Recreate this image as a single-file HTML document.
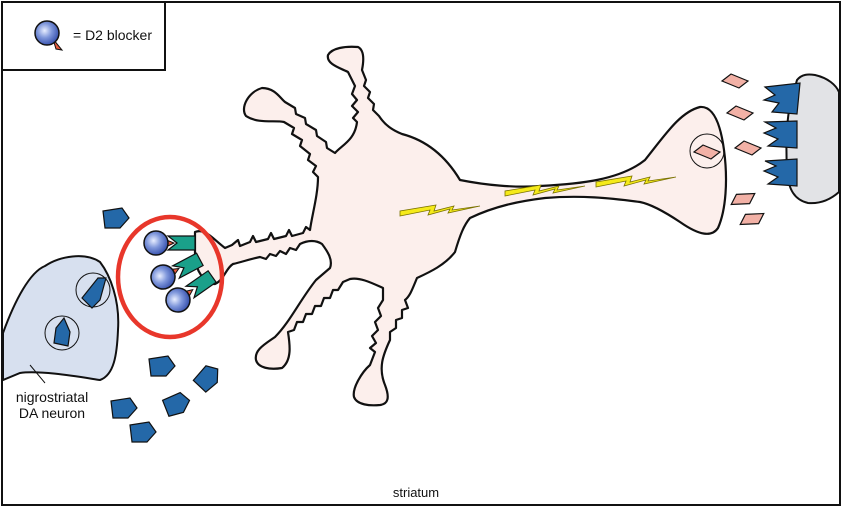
<!DOCTYPE html>
<html><head><style>
html,body{margin:0;padding:0;background:#fff}
svg{display:block}
text{font-family:"Liberation Sans",sans-serif;fill:#111}
</style></head><body>
<svg width="842" height="507" viewBox="0 0 842 507" xmlns="http://www.w3.org/2000/svg">
<defs>
<radialGradient id="ball" cx="0.4" cy="0.4" r="0.6">
<stop offset="0" stop-color="#e8eeff"/><stop offset="0.5" stop-color="#7f97db"/><stop offset="1" stop-color="#3b55b0"/>
</radialGradient>
<g id="blk"><path d="M6,6 L15,17 L9,16 Z" fill="#e85a3c" stroke="#111" stroke-width="1"/><circle cx="0" cy="0" r="12" fill="url(#ball)" stroke="#111" stroke-width="1.5"/></g>
<g id="blkr"><path d="M8,-4 L18,0 L8,5 Z" fill="#e85a3c" stroke="#111" stroke-width="1"/><circle cx="0" cy="0" r="12" fill="url(#ball)" stroke="#111" stroke-width="1.5"/></g>
<g id="rec"><path d="M0,-7 L27,-7 L27,7 L0,7 L9,0 Z" fill="#1aa08a" stroke="#111" stroke-width="1.2"/></g>
<path id="pent" d="M-12,-7 L7,-10 L14,0 L5,10 L-10,10 Z" fill="#2468a8" stroke="#111" stroke-width="1.2"/>
<path id="dia" d="M-13,0 L-4,-7 L13,0 L4,7 Z" fill="#f2b1a6" stroke="#111" stroke-width="1.2"/>
<path id="bolt" d="M0,8 L30,2 L28,7 L50,1 L48,5 L80,-2 L52,2 L54,-2 L34,3 L36,-3 L0,3 Z" fill="#f5ea1a" stroke="#7a7200" stroke-width="0.8"/>
</defs>
<rect x="2" y="2" width="838" height="503" fill="#fff" stroke="#111" stroke-width="2"/>
<rect x="2" y="2" width="163" height="68" fill="#fff" stroke="#111" stroke-width="2"/>
<use href="#blk" x="47" y="33"/>
<text x="73" y="40" font-size="14">= D2 blocker</text>

<!-- presynaptic DA neuron -->
<path d="M3,333 C15,300 30,272 45,266 C60,256 85,252 100,262 C110,275 120,300 118,330 C117,355 114,375 100,380 C80,377 40,370 20,373 L3,380 Z" fill="#d7e0ef" stroke="#111" stroke-width="2"/>
<line x1="30" y1="365" x2="45" y2="383" stroke="#111" stroke-width="1"/>
<circle cx="93" cy="290" r="17" fill="none" stroke="#111" stroke-width="1"/>
<circle cx="62" cy="333" r="17" fill="none" stroke="#111" stroke-width="1"/>
<path d="M82,298 L98,278 L106,278 L100,300 L92,308 Z" fill="#2468a8" stroke="#111" stroke-width="1.2"/>
<path d="M56,328 L64,318 L70,332 L68,346 L54,343 Z" fill="#2468a8" stroke="#111" stroke-width="1.2"/>
<text x="52" y="402" font-size="14" text-anchor="middle">nigrostriatal</text>
<text x="52" y="418" font-size="14" text-anchor="middle">DA neuron</text>

<!-- striatal neuron -->
<path d="M195,232 C205,228 212,238 225,248 L232,245 L238,240 L240,246 L250,242 L253,236 L256,242 L268,239 L271,233 L274,239 L286,236 L289,230 L292,236 L303,233 L306,227 L310,230 C312,215 318,195 318,177 L313,172 L316,166 L308,160 L310,154 L300,146 L302,140 L292,134 L294,128 L284,122 C275,120 258,124 246,116 C240,108 248,92 262,88 C275,88 280,98 285,102 L295,108 L296,114 L305,118 L306,124 L316,130 L317,136 L326,142 L327,148 L335,153 C342,145 355,140 357,122 L353,118 L358,112 L352,106 L357,100 L352,94 L355,86 L348,72 C340,68 326,64 328,55 C332,48 345,46 358,47 C364,50 364,60 362,70 L366,80 L364,86 L370,92 L368,98 L374,104 L373,110 L379,116 C385,125 392,130 402,134 C425,140 445,155 460,180 C485,185 515,188 540,186 C580,184 620,180 645,160 C665,135 680,112 700,107 C712,106 720,120 724,150 C728,180 726,210 718,228 C712,237 700,236 680,222 C665,212 650,204 640,202 C610,198 580,195 545,198 C520,201 495,206 470,218 C464,225 460,235 455,252 C445,265 430,272 417,278 C412,290 410,296 405,300 L408,308 L402,310 L402,318 L396,320 L396,328 L390,332 L390,340 C383,355 378,368 385,385 C390,398 388,404 380,405 C370,406 357,405 354,397 C352,388 362,372 370,365 L375,352 L370,348 L376,343 L372,336 L378,330 L375,322 L381,316 L378,308 L383,300 L383,288 C372,283 360,277 350,279 L343,282 L338,290 L333,290 L330,298 L324,298 L321,306 L315,306 L312,314 L306,314 L303,322 L297,322 L294,330 L288,332 C290,345 292,360 282,368 C270,370 258,368 256,360 C254,350 265,344 275,337 C290,322 300,300 316,280 L330,268 C333,260 328,252 322,244 C316,240 308,240 300,244 L296,250 L290,248 L286,254 L280,251 L276,256 L270,254 L266,259 L260,257 C250,259 242,262 233,264 C226,268 224,280 215,284 C205,285 195,270 195,255 Z" fill="#fcefec" stroke="#111" stroke-width="2.2" stroke-linejoin="round"/>
<circle cx="707" cy="151" r="17" fill="none" stroke="#111" stroke-width="1"/>
<use href="#dia" x="707" y="152"/>
<use href="#bolt" x="400" y="208"/>
<use href="#bolt" x="505" y="188"/>
<use href="#bolt" x="596" y="179"/>

<!-- postsynaptic right cell -->
<path d="M797,80 C802,74 808,74 815,75 C828,78 836,85 839,92 L839,192 C830,200 820,204 808,203 C795,200 788,190 787,170 C786,150 786,125 790,105 Z" fill="#e2e3e6" stroke="#111" stroke-width="2"/>
<path d="M765,87 L800,83 L797,114 L772,112 L779,103 L764,100 L775,95 Z" fill="#2468a8" stroke="#111" stroke-width="1.2"/>
<path d="M765,122 L797,121 L797,148 L768,146 L778,139 L764,133 L776,128 Z" fill="#2468a8" stroke="#111" stroke-width="1.2"/>
<path d="M765,161 L797,159 L797,186 L768,184 L778,177 L764,171 L776,166 Z" fill="#2468a8" stroke="#111" stroke-width="1.2"/>
<use href="#dia" x="735" y="81"/>
<use href="#dia" x="740" y="113"/>
<use href="#dia" x="748" y="148"/>
<use href="#dia" transform="translate(743,199) rotate(-25)"/>
<use href="#dia" transform="translate(752,219) rotate(-25)"/>

<!-- red circle with blockers -->
<use href="#rec" transform="translate(168,243)"/>
<use href="#rec" transform="translate(176,272) rotate(-28)"/>
<use href="#rec" transform="translate(190,292) rotate(-35)"/>
<use href="#blkr" transform="translate(156,243)"/>
<use href="#blkr" transform="translate(163,277) rotate(-28)"/>
<use href="#blkr" transform="translate(178,300) rotate(-35)"/>
<ellipse cx="170" cy="277" rx="52" ry="60" fill="none" stroke="#e8372b" stroke-width="4.5"/>

<!-- dopamine -->
<use href="#pent" x="115" y="218"/>
<use href="#pent" x="161" y="366"/>
<use href="#pent" transform="translate(207,378) rotate(-40)"/>
<use href="#pent" x="123" y="408"/>
<use href="#pent" transform="translate(176,404) rotate(-15)"/>
<use href="#pent" x="142" y="432"/>

<text x="416" y="497" font-size="13" text-anchor="middle">striatum</text>
</svg>
</body></html>
